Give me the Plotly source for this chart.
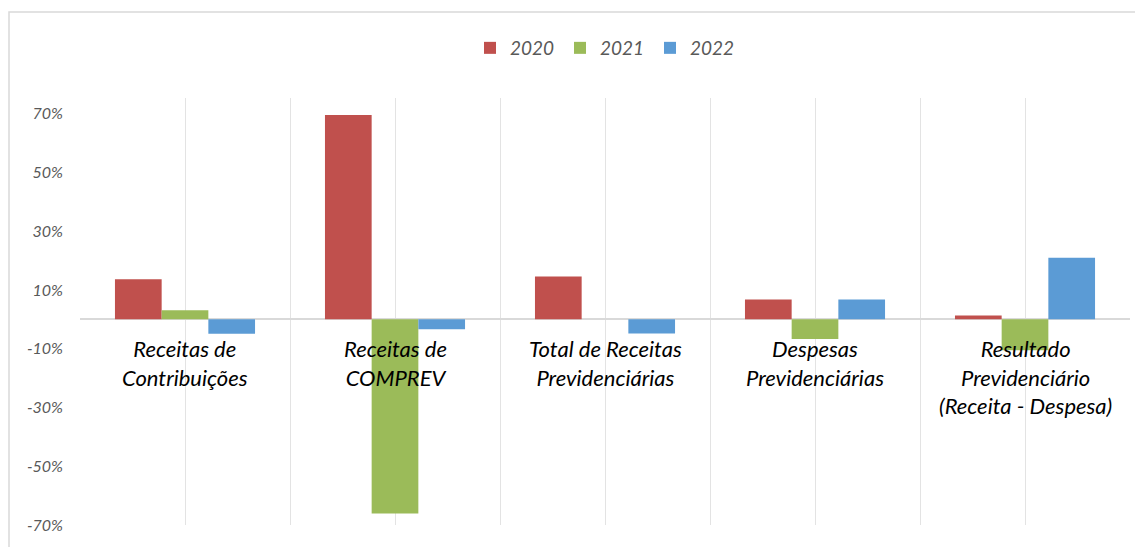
import plotly.graph_objects as go

categories = ["Receitas de<br>Contribuições", "Receitas de<br>COMPREV", "Total de Receitas<br>Previdenciárias",
              "Despesas<br>Previdenciárias", "Resultado<br>Previdenciário<br>(Receita - Despesa)"]
series_names = ["2020", "2021", "2022"]
v2020 = [13.6, 69.5, 14.6, 6.7, 1.3]
v2021 = [3.1, -66.1, 0.0, -6.7, -10.5]
v2022 = [-4.9, -3.4, -4.8, 6.7, 20.9]
colors = ["#C0504D", "#9BBB59", "#5B9BD5"]
ytick_vals = [-70, -50, -30, -10, 10, 30, 50, 70]
ytick_text = [f"{v}%" for v in ytick_vals]

OFF = 8  # page body margin
W, H = 1143 - OFF, 547 - OFF
L, R, T, B = 80 - OFF, 13, 98 - OFF, 22
PH = H - T - B
PW = W - L - R

xs = list(range(len(categories)))
fig = go.Figure()
for name, vals, c in zip(series_names, [v2020, v2021, v2022], colors):
    fig.add_trace(go.Bar(x=xs, y=vals, name=name, marker=dict(color=c, line=dict(width=0))))

for i, cat in enumerate(categories):
    fig.add_annotation(x=i, y=0, xref="x", yref="y", text=cat, showarrow=False,
                       yanchor="top", yshift=-14,
                       font=dict(family="Lato", size=22, color="#000000", style="italic"))

fig.add_shape(type="rect", xref="paper", yref="paper",
              x0=(1 - L) / PW, x1=1.3, y0=-0.3, y1=1 + (98 - 12) / PH,
              line=dict(color="#d9d9d9", width=1.5), fillcolor="rgba(0,0,0,0)", layer="below")

fig.update_layout(
    width=W, height=H,
    margin=dict(l=L, r=R, t=T, b=B),
    plot_bgcolor="white", paper_bgcolor="white",
    barmode="group", bargap=0.333, bargroupgap=0,
    showlegend=True,
    legend=dict(orientation="h", x=0.5, xanchor="center", y=1 + (98 - 48) / PH, yanchor="middle",
                font=dict(family="Lato", size=19, color="#595959", style="italic"),
                itemwidth=30, traceorder="normal", entrywidth=45, entrywidthmode="pixels"),
    xaxis=dict(range=[-0.5, 4.5], tickmode="linear", tick0=-0.5, dtick=0.5,
               showgrid=True, gridcolor="#e3e3e3", gridwidth=1,
               showticklabels=False, zeroline=False, showline=False, ticks=""),
    yaxis=dict(range=[-70, 75.3], tickvals=ytick_vals, ticktext=ytick_text,
               showgrid=False, zeroline=True, zerolinecolor="#d9d9d9", zerolinewidth=1.5,
               showline=False, ticks="", ticklabelstandoff=16,
               tickfont=dict(family="Lato", size=16, color="#595959", style="italic")),
)

fig.write_html("out.html")
